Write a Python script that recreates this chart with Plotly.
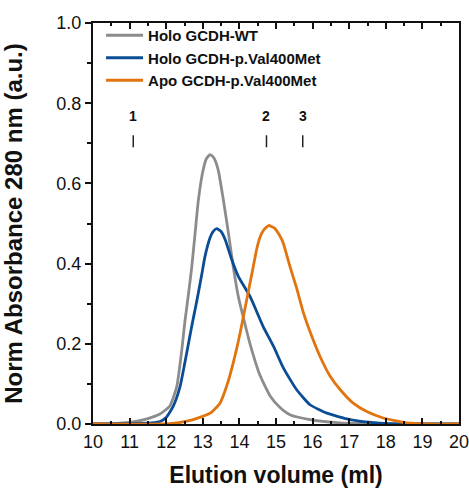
import plotly.graph_objects as go

# ---- data ----
wt_x = [10.0, 10.5, 11.0, 11.4, 11.83, 12.1, 12.29, 12.42, 12.51, 12.6, 12.7, 12.79, 12.88, 13.01,
        13.1, 13.2, 13.3, 13.42, 13.56, 13.7, 13.83, 13.97, 14.15, 14.29, 14.56, 14.84, 15.11, 15.38,
        15.93, 16.75, 18.0, 20.0]
wt_y = [0.0, 0.001, 0.004, 0.011, 0.025, 0.045, 0.094, 0.18, 0.255, 0.318, 0.393, 0.476, 0.559, 0.634,
        0.662, 0.672, 0.664, 0.634, 0.56, 0.476, 0.393, 0.318, 0.25, 0.2, 0.122, 0.07, 0.041, 0.023,
        0.011, 0.003, 0.0005, 0.0]

holo_x = [10.0, 11.0, 11.6, 11.85, 12.0, 12.19, 12.38, 12.56, 12.7, 12.81, 12.88, 12.97, 13.06, 13.2,
          13.28, 13.38, 13.5, 13.61, 13.79, 13.97, 14.29, 14.65, 14.93, 15.2, 15.56, 15.93, 16.39,
          17.02, 17.84, 18.6, 20.0]
holo_y = [0.0, 0.001, 0.003, 0.007, 0.016, 0.044, 0.094, 0.177, 0.245, 0.295, 0.328, 0.372, 0.418, 0.465,
          0.48, 0.487, 0.48, 0.46, 0.41, 0.368, 0.318, 0.243, 0.194, 0.14, 0.086, 0.048, 0.027,
          0.011, 0.002, 0.0, 0.0]

apo_x = [10.0, 12.0, 12.29, 12.74, 13.2, 13.47, 13.65, 13.83, 14.02, 14.2, 14.38, 14.47, 14.56, 14.65,
         14.8, 14.95, 15.1, 15.2, 15.38, 15.56, 15.75, 15.98, 16.2, 16.48, 16.75, 17.11, 17.48, 17.93,
         18.57, 19.1, 20.0]
apo_y = [0.0, 0.0, 0.0025, 0.011, 0.027, 0.052, 0.094, 0.152, 0.227, 0.31, 0.393, 0.435, 0.465, 0.482,
         0.495, 0.489, 0.47, 0.451, 0.393, 0.34, 0.277, 0.218, 0.169, 0.119, 0.086, 0.052, 0.031, 0.015,
         0.0025, 0.0, 0.0]

series_names = ["Holo GCDH-WT", "Holo GCDH-p.Val400Met", "Apo GCDH-p.Val400Met"]
series_colors = ["#8c8c8c", "#0b4d94", "#e2740f"]

marker_x = [11.1, 14.74, 15.73]
marker_labels = ["1", "2", "3"]
marker_label_y = 0.768
marker_bar_y = [0.69, 0.72]

x_major = [10, 11, 12, 13, 14, 15, 16, 17, 18, 19, 20]
x_minor = [10.5, 11.5, 12.5, 13.5, 14.5, 15.5, 16.5, 17.5, 18.5, 19.5]
y_major = [0.0, 0.2, 0.4, 0.6, 0.8, 1.0]
y_minor = [0.1, 0.3, 0.5, 0.7, 0.9]

FONT = "Liberation Sans, Arial, sans-serif"
INK = "#111111"

W, H = 469, 488
ML, MR, MT, MB = 93, 10, 23, 64

fig = go.Figure()
for xs, ys, name, col in zip([wt_x, holo_x, apo_x], [wt_y, holo_y, apo_y], series_names, series_colors):
    fig.add_trace(go.Scatter(x=xs, y=ys, mode="lines", name=name,
                             line=dict(color=col, width=2.8, shape="spline", smoothing=0.5)))

for mx, lab in zip(marker_x, marker_labels):
    fig.add_annotation(x=mx, y=marker_label_y, text="<b>%s</b>" % lab, showarrow=False,
                       font=dict(family=FONT, size=14, color=INK), xref="x", yref="y")
    fig.add_shape(type="line", x0=mx, x1=mx, y0=marker_bar_y[0], y1=marker_bar_y[1],
                  xref="x", yref="y", line=dict(color="#222", width=1.5))

fig.update_layout(
    width=W, height=H,
    margin=dict(l=ML, r=MR, t=MT, b=MB, autoexpand=False),
    paper_bgcolor="white", plot_bgcolor="white",
    font=dict(family=FONT, color=INK),
    legend=dict(x=0.022, y=1.01, xanchor="left", yanchor="top",
                font=dict(family=FONT, size=15, color=INK, weight="bold"),
                bgcolor="rgba(0,0,0,0)", tracegroupgap=0, itemwidth=37),
)

fig.update_xaxes(
    range=[x_major[0], x_major[-1]], tickvals=x_major, ticktext=[str(v) for v in x_major],
    ticks="inside", ticklen=6, tickwidth=1.5, tickcolor=INK,
    minor=dict(tickvals=x_minor, ticks="inside", ticklen=3, tickwidth=1.5, tickcolor=INK),
    showline=True, linewidth=2, linecolor=INK, mirror="ticks",
    showgrid=False, zeroline=False, automargin=False, ticklabeloverflow="allow",
    tickfont=dict(family=FONT, size=18, color=INK),
    title=dict(text="<b>Elution volume (ml)</b>", font=dict(family=FONT, size=23, color=INK), standoff=44),
)
fig.update_yaxes(
    range=[y_major[0], y_major[-1]], tickvals=y_major, ticktext=["%.1f" % v for v in y_major],
    ticks="outside", ticklen=6, tickwidth=1.5, tickcolor=INK,
    minor=dict(tickvals=y_minor, ticks="outside", ticklen=4, tickwidth=1.5, tickcolor=INK),
    showline=True, linewidth=2, linecolor=INK, mirror=True,
    showgrid=False, zeroline=False, automargin=False, ticklabeloverflow="allow",
    tickfont=dict(family=FONT, size=18, color=INK),
    title=dict(text="<b>Norm Absorbance 280 nm (a.u.)</b>", font=dict(family=FONT, size=24, color=INK), standoff=36),
)

post = "document.body.style.margin='0';document.body.style.overflow='hidden';"
fig.write_html("out.html", post_script=post, config={"displayModeBar": False})
